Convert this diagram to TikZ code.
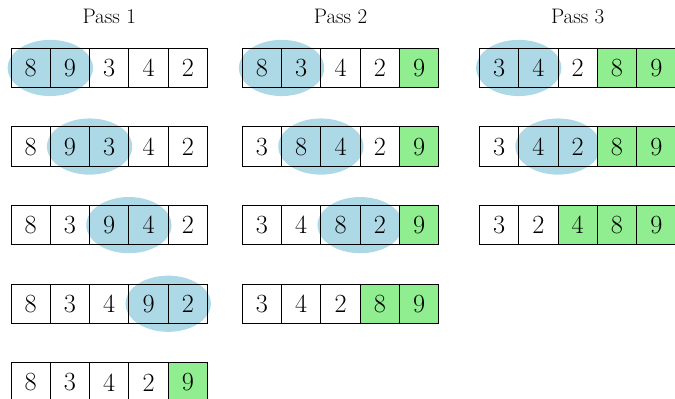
\documentclass[tikz,border=0pt]{standalone}
\usetikzlibrary{shapes.geometric}

\definecolor{swapblue}{RGB}{173,216,230}
\definecolor{donegreen}{RGB}{144,238,144}

\tikzset{
  cell/.style={draw=black, line width=0.6pt, minimum size=1cm, inner sep=0pt,
    font=\fontsize{19}{22}\selectfont},
  swapmark/.style={ellipse, fill=swapblue, draw=none, inner sep=0pt,
    minimum width=2.17cm, minimum height=1.43cm},
  passtitle/.style={font=\fontsize{15.2}{18}\selectfont, inner sep=0pt}
}

\begin{document}
\begin{tikzpicture}
\useasboundingbox (0,0) rectangle (17.176,-10.153);

% pass titles
\foreach \pass in {1,2,3}{
  \pgfmathsetmacro\xl{{0.28,6.165,12.2}[\pass-1]}
  \node[passtitle] (title\pass) at (\xl+2.5,-0.43) {Pass \pass};
}

% each row: pass / row / values / compared pair (-1 = none) / first sorted cell
\foreach \pass/\r/\vals/\sw/\g in {
    1/0/{8,9,3,4,2}/0/5,
    1/1/{8,9,3,4,2}/1/5,
    1/2/{8,3,9,4,2}/2/5,
    1/3/{8,3,4,9,2}/3/5,
    1/4/{8,3,4,2,9}/-1/4,
    2/0/{8,3,4,2,9}/0/4,
    2/1/{3,8,4,2,9}/1/4,
    2/2/{3,4,8,2,9}/2/4,
    2/3/{3,4,2,8,9}/-1/3,
    3/0/{3,4,2,8,9}/0/3,
    3/1/{3,4,2,8,9}/1/3,
    3/2/{3,2,4,8,9}/-1/2}{
  \pgfmathsetmacro\xl{{0.28,6.165,12.2}[\pass-1]}
  \pgfmathsetmacro\yc{-(1.729+2*\r)}
  % highlight of the pair being compared, drawn beneath the cells
  \ifnum\sw>-1
    \node[swapmark] (e\pass-\r) at (\xl+1+\sw,\yc) {};
  \fi
  \foreach \v [count=\i from 0] in \vals {
    \ifnum\i<\g\relax
      \def\cf{none}
    \else
      \def\cf{donegreen}
    \fi
    \node[cell, fill=\cf] (c\pass-\r-\i) at (\xl+0.5+\i,\yc) {\v};
  }
}
\end{tikzpicture}
\end{document}
